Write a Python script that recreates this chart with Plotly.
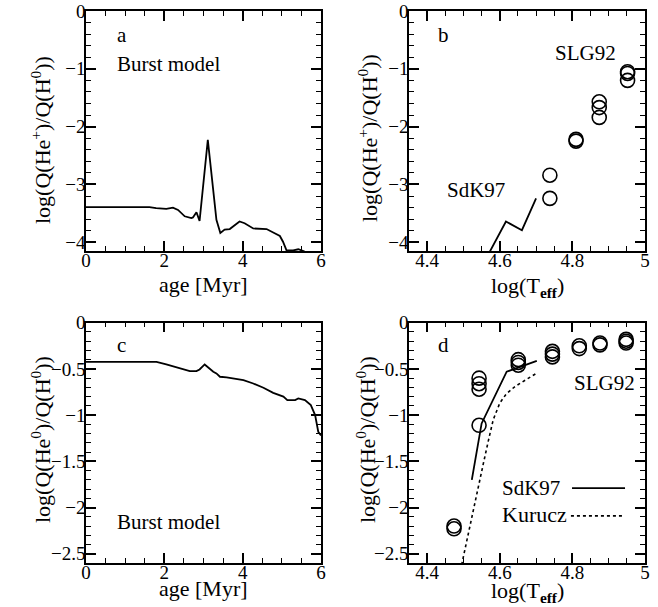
import plotly.graph_objects as go

# ---------------- data ----------------
# panel a: burst model, log Q(He+)/Q(H0) vs age
age_a = [0, 1.62, 1.79, 2.05, 2.22, 2.35, 2.52, 2.69, 2.73, 2.82, 2.90, 3.11, 3.33, 3.43, 3.54,
         3.67, 3.92, 4.05, 4.27, 4.44, 4.61, 4.78, 4.95, 5.03, 5.12, 5.29, 5.42, 5.55, 5.72, 5.85]
qhep_a = [-3.39, -3.39, -3.41, -3.42, -3.40, -3.44, -3.55, -3.58, -3.57, -3.48, -3.63, -2.23, -3.61, -3.84, -3.78,
          -3.77, -3.64, -3.67, -3.76, -3.77, -3.77, -3.83, -3.89, -3.99, -4.14, -4.14, -4.12, -4.15, -4.20, -4.25]

# panel b: SLG92 circles and SdK97 line
teff_b = [4.738, 4.738, 4.81, 4.81, 4.874, 4.874, 4.874, 4.952, 4.952, 4.952]
qhep_b = [-2.84, -3.24, -2.22, -2.25, -1.57, -1.67, -1.84, -1.05, -1.08, -1.20]
teff_sdk_b = [4.565, 4.617, 4.661, 4.70]
qhep_sdk_b = [-4.25, -3.64, -3.79, -3.24]

# panel c: burst model, log Q(He0)/Q(H0) vs age
age_c = [0, 1.80, 2.05, 2.40, 2.65, 2.82, 2.90, 3.03, 3.25, 3.33, 3.42, 3.59, 4.02, 4.27, 4.53,
         4.78, 4.95, 5.04, 5.14, 5.34, 5.42, 5.59, 5.74, 5.85, 5.93, 6.0]
qhe0_c = [-0.423, -0.423, -0.45, -0.495, -0.524, -0.524, -0.506, -0.452, -0.531, -0.549, -0.585, -0.592, -0.621, -0.658, -0.704,
          -0.759, -0.791, -0.80, -0.838, -0.838, -0.82, -0.838, -0.892, -1.0, -1.18, -1.22]

# panel d: SLG92 circles, SdK97 and Kurucz lines
teff_d = [4.474, 4.474, 4.543, 4.543, 4.543, 4.543, 4.651, 4.651, 4.651, 4.745, 4.745, 4.745,
          4.819, 4.819, 4.876, 4.876, 4.948, 4.948, 4.948]
qhe0_d = [-2.20, -2.23, -0.60, -0.66, -0.72, -1.11, -0.40, -0.43, -0.46, -0.31, -0.34, -0.37,
          -0.25, -0.28, -0.22, -0.24, -0.18, -0.20, -0.22]
teff_sdk_d = [4.523, 4.55, 4.619, 4.702]
qhe0_sdk_d = [-1.70, -1.09, -0.53, -0.414]
teff_kur_d = [4.495, 4.513, 4.527, 4.541, 4.555, 4.569, 4.582, 4.60, 4.618, 4.642, 4.67, 4.70]
qhe0_kur_d = [-2.62, -2.28, -2.03, -1.78, -1.52, -1.27, -1.05, -0.87, -0.77, -0.69, -0.62, -0.55]

# tick labels
age_ticks = [0, 2, 4, 6]
age_ticktext = ["0", "2", "4", "6"]
teff_ticks = [4.4, 4.6, 4.8, 5.0]
teff_ticktext = ["4.4", "4.6", "4.8", "5"]
qp_ticks = [0, -1, -2, -3, -4]
qp_ticktext = ["0", "\u22121", "\u22122", "\u22123", "\u22124"]
q0_ticks = [0, -0.5, -1, -1.5, -2, -2.5]
q0_ticktext = ["0", "\u22120.5", "\u22121", "\u22121.5", "\u22122", "\u22122.5"]

FONT = "Liberation Serif"
W, H = 658, 607


def px(p):
    return p / W


def py(p):
    return 1 - p / H


fig = go.Figure()

line_style = dict(color="black", width=1.8)
circ = dict(symbol="circle-open", size=14, color="black", line=dict(width=1.6, color="black"))

fig.add_trace(go.Scatter(x=age_a, y=qhep_a, mode="lines", line=line_style, xaxis="x", yaxis="y"))
fig.add_trace(go.Scatter(x=teff_sdk_b, y=qhep_sdk_b, mode="lines", line=line_style, xaxis="x2", yaxis="y2"))
fig.add_trace(go.Scatter(x=teff_b, y=qhep_b, mode="markers", marker=circ, xaxis="x2", yaxis="y2", cliponaxis=False))
fig.add_trace(go.Scatter(x=age_c, y=qhe0_c, mode="lines", line=line_style, xaxis="x3", yaxis="y3"))
fig.add_trace(go.Scatter(x=teff_sdk_d, y=qhe0_sdk_d, mode="lines", line=line_style, xaxis="x4", yaxis="y4"))
fig.add_trace(go.Scatter(x=teff_kur_d, y=qhe0_kur_d, mode="lines", line=dict(color="black", width=1.6, dash="dot"),
                         xaxis="x4", yaxis="y4"))
fig.add_trace(go.Scatter(x=teff_d, y=qhe0_d, mode="markers", marker=circ, xaxis="x4", yaxis="y4", cliponaxis=False))


def ax(domain, rng, tickvals, ticktext, minor_dtick, anchor, standoff):
    return dict(
        domain=domain, range=rng, anchor=anchor, automargin=False,
        tickmode="array", tickvals=tickvals, ticktext=ticktext,
        showline=True, linecolor="black", linewidth=1.5, mirror="allticks",
        ticks="inside", ticklen=10, tickwidth=1.5, tickcolor="black",
        showgrid=False, zeroline=False, ticklabelstandoff=standoff,
        tickfont=dict(family=FONT, size=19, color="black"),
        minor=dict(dtick=minor_dtick, tick0=0, ticks="inside", ticklen=5, tickwidth=1.2,
                   tickcolor="black", showgrid=False),
    )


xl = [px(86), px(321)]
xr = [px(409), px(645)]
yt = [py(251), py(11)]
yb = [py(563), py(322.7)]

XS, YS = -9, -5
fig.update_layout(
    template="none",
    width=W, height=H, margin=dict(l=0, r=0, t=0, b=0, autoexpand=False),
    paper_bgcolor="white", plot_bgcolor="white", showlegend=False,
    font=dict(family=FONT, color="black"),
    xaxis=ax(xl, [0, 6], age_ticks, age_ticktext, 0.5, "y", XS),
    yaxis=ax(yt, [-4.15, 0], qp_ticks, qp_ticktext, 0.2, "x", YS),
    xaxis2=ax(xr, [4.35, 5.0], teff_ticks, teff_ticktext, 0.05, "y2", XS),
    yaxis2=ax(yt, [-4.15, 0], qp_ticks, qp_ticktext, 0.2, "x2", YS),
    xaxis3=ax(xl, [0, 6], age_ticks, age_ticktext, 0.5, "y3", XS),
    yaxis3=ax(yb, [-2.6, 0], q0_ticks, q0_ticktext, 0.1, "x3", YS),
    xaxis4=ax(xr, [4.35, 5.0], teff_ticks, teff_ticktext, 0.05, "y4", XS),
    yaxis4=ax(yb, [-2.6, 0], q0_ticks, q0_ticktext, 0.1, "x4", YS),
)

ann = []


def txt(text, x, y, xref, yref, size=21, xanchor="left", yanchor="middle", angle=0):
    ann.append(dict(text=text, x=x, y=y, xref=xref, yref=yref, showarrow=False,
                    xanchor=xanchor, yanchor=yanchor, textangle=angle,
                    font=dict(family=FONT, size=size, color="black")))


# panel labels and in-plot text
txt("a", 0.74, -0.42, "x", "y")
txt("Burst model", 0.74, -0.92, "x", "y")
txt("b", 4.424, -0.42, "x2", "y2")
txt("SLG92", 4.747, -0.73, "x2", "y2")
txt("SdK97", 4.449, -3.1, "x2", "y2")
txt("c", 0.74, -0.24, "x3", "y3")
txt("Burst model", 0.74, -2.16, "x3", "y3")
txt("d", 4.424, -0.24, "x4", "y4")
txt("SLG92", 4.798, -0.65, "x4", "y4")
txt("SdK97", 4.60, -1.79, "x4", "y4")
txt("Kurucz", 4.60, -2.07, "x4", "y4", size=22)

# axis titles
ylab_p = "log(Q(He<sup>+</sup>)/Q(H<sup>0</sup>))"
ylab_0 = "log(Q(He<sup>0</sup>)/Q(H<sup>0</sup>))"
txt(ylab_p, px(41), py(140), "paper", "paper", size=22, xanchor="center", angle=-90)
txt(ylab_p, px(368), py(138), "paper", "paper", size=22, xanchor="center", angle=-90)
txt(ylab_0, px(41), py(440), "paper", "paper", size=22, xanchor="center", angle=-90)
txt(ylab_0, px(366), py(440), "paper", "paper", size=22, xanchor="center", angle=-90)
txt("age [Myr]", px(203), py(284), "paper", "paper", size=22, xanchor="center")
txt("age [Myr]", px(203), py(588), "paper", "paper", size=22, xanchor="center")
txt("log(T<sub><b>eff</b></sub>)", px(527), py(287), "paper", "paper", size=22, xanchor="center")
txt("log(T<sub><b>eff</b></sub>)", px(527), py(592), "paper", "paper", size=22, xanchor="center")

fig.update_layout(annotations=ann)

# legend sample lines in panel d
fig.add_shape(type="line", xref="x4", yref="y4", x0=4.799, x1=4.945, y0=-1.79, y1=-1.79,
              line=dict(color="black", width=1.8))
fig.add_shape(type="line", xref="x4", yref="y4", x0=4.796, x1=4.937, y0=-2.09, y1=-2.09,
              line=dict(color="black", width=1.6, dash="dot"))

fig.write_html("out.html", config={"displayModeBar": False},
               post_script="document.body.style.margin='0px';")
